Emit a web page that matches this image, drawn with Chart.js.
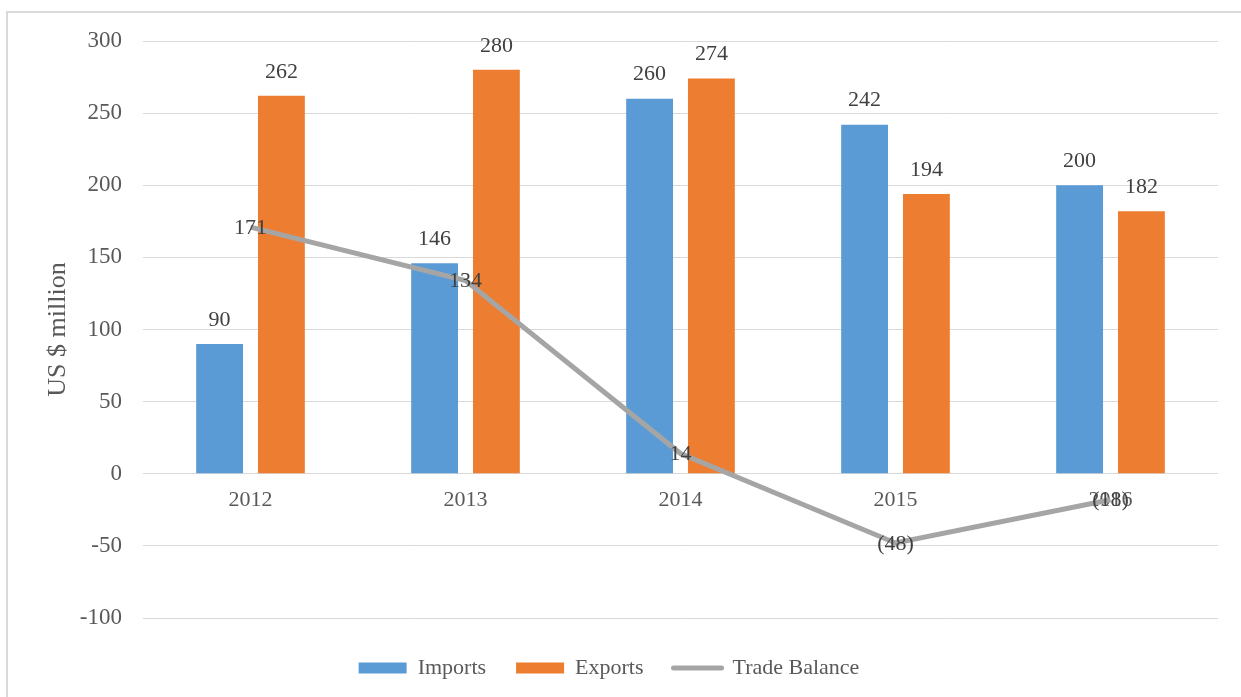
<!doctype html>
<html><head><meta charset="utf-8">
<script src="https://cdn.jsdelivr.net/npm/chart.js@4/dist/chart.umd.min.js"></script>
<style>
* { margin:0; padding:0; box-sizing:border-box; }
html,body { width:1241px; height:697px; overflow:hidden; background:#fff; }
.frame { position:absolute; left:6px; top:11px; width:1300px; height:800px; border-top:2px solid #d9d9d9; border-left:2px solid #d9d9d9; }
#chart { position:absolute; left:0; top:0; }
</style></head>
<body>
<div class="frame"></div>
<canvas id="chart" width="1241" height="697"></canvas>
<script>
const years = ['2012', '2013', '2014', '2015', '2016'];
const imports = [90, 146, 260, 242, 200];
const exports = [262, 280, 274, 194, 182];
const tradeBalance = [171, 134, 14, -48, -18];

const FONT = "'Liberation Serif', 'Times New Roman', serif";

function fmt(v) { return v < 0 ? '(' + Math.abs(v) + ')' : String(v); }

// data labels: above bars, centred on line points
const valueLabels = {
  id: 'valueLabels',
  afterDatasetsDraw(chart) {
    const ctx = chart.ctx;
    ctx.save();
    ctx.font = '22px ' + FONT;
    ctx.fillStyle = '#404040';
    ctx.textAlign = 'center';
    ctx.textBaseline = 'middle';
    chart.data.datasets.forEach((ds, i) => {
      const meta = chart.getDatasetMeta(i);
      meta.data.forEach((el, j) => {
        const v = ds.data[j];
        if (ds.type === 'line') ctx.fillText(fmt(v), el.x, el.y + 1);
        else ctx.fillText(fmt(v), el.x, el.y - 24);
      });
    });
    ctx.restore();
  }
};

new Chart(document.getElementById('chart'), {
  data: {
    labels: years,
    datasets: [
      { type: 'bar', label: 'Imports', data: imports, backgroundColor: '#5B9BD5',
        categoryPercentage: 0.575, barPercentage: 0.758, order: 2 },
      { type: 'bar', label: 'Exports', data: exports, backgroundColor: '#ED7D31',
        categoryPercentage: 0.575, barPercentage: 0.758, order: 2 },
      { type: 'line', label: 'Trade Balance', data: tradeBalance, borderColor: '#A5A5A5',
        backgroundColor: '#A5A5A5', borderWidth: 5, pointRadius: 0, tension: 0, order: 1 }
    ]
  },
  options: {
    responsive: false, animation: false,
    layout: { padding: { left: 0, right: 23, top: 41, bottom: 8 } },
    plugins: {
      tooltip: { enabled: false },
      legend: {
        position: 'bottom',
        title: { display: true, text: ' ', font: { size: 5 }, padding: { top: 3, bottom: 0 } },
        labels: {
          font: { family: FONT, size: 22 }, color: '#595959',
          usePointStyle: true, pointStyleWidth: 48, boxHeight: 11, padding: 30,
          generateLabels(chart) {
            return chart.data.datasets.map((ds, i) => ({
              text: ds.label,
              fillStyle: ds.backgroundColor,
              strokeStyle: ds.type === 'line' ? ds.borderColor : ds.backgroundColor,
              lineWidth: ds.type === 'line' ? 5 : 0,
              lineCap: 'round',
              pointStyle: ds.type === 'line' ? 'line' : 'rect',
              fontColor: '#595959',
              datasetIndex: i
            }));
          }
        }
      }
    },
    scales: {
      x: {
        position: { y: 0 },
        grid: { display: false, drawTicks: false },
        border: { display: false },
        ticks: { font: { family: FONT, size: 22 }, color: '#595959', padding: 13 }
      },
      y: {
        min: -100, max: 300,
        afterFit(scale) { scale.width = 143; },
        grid: { color: '#D9D9D9', lineWidth: 1, drawTicks: false },
        border: { display: false },
        ticks: { stepSize: 50, font: { family: FONT, size: 23 }, color: '#595959', padding: 21 },
        title: { display: true, text: 'US $ million', font: { family: FONT, size: 26 }, color: '#595959',
          padding: { top: 43, bottom: 0 } }
      }
    }
  },
  plugins: [valueLabels]
});
</script>
</body></html>
